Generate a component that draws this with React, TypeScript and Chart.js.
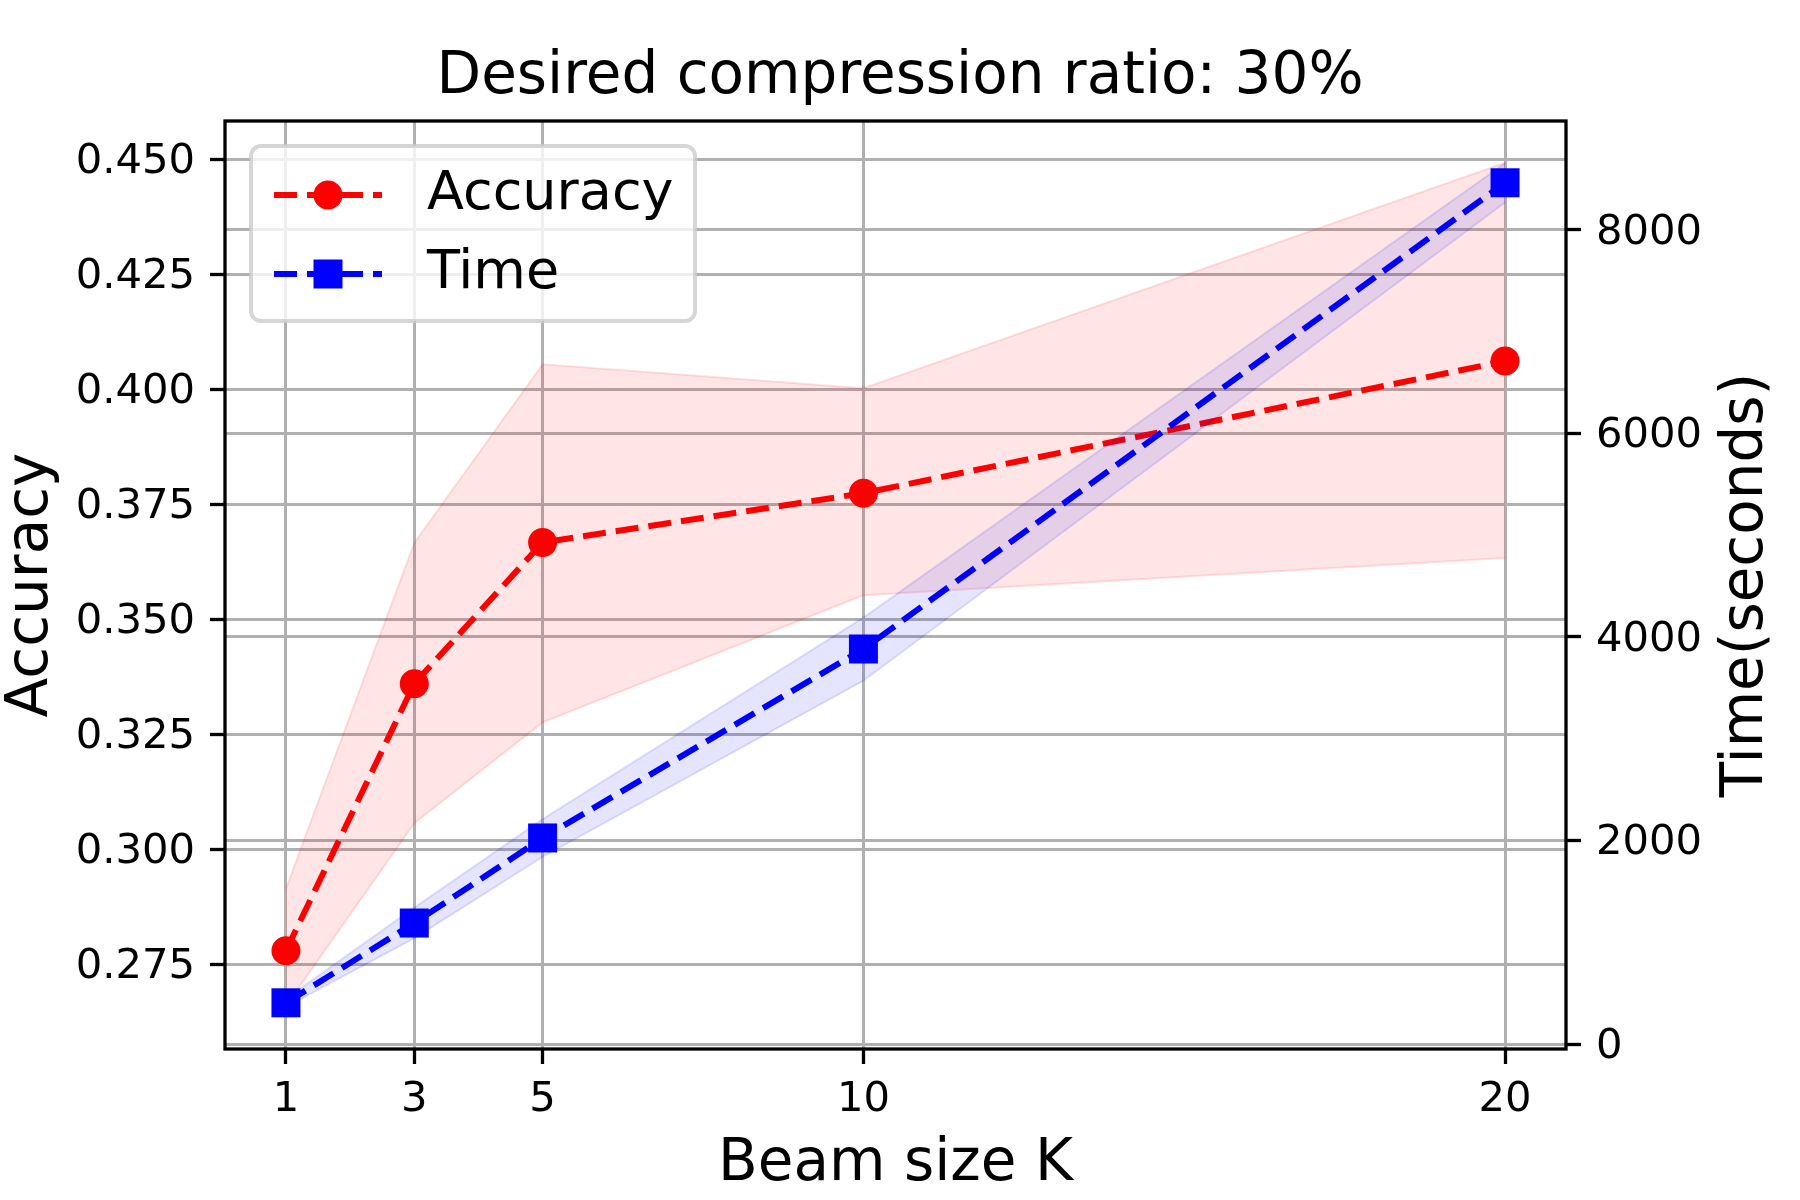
import { useEffect, useRef } from "react";
import { Chart, registerables } from "chart.js";

// Register all Chart.js components
Chart.register(...registerables);

// Values
const beamSizes = [1, 3, 5, 10, 20];
const accuracy = [0.278, 0.336, 0.3667, 0.3774, 0.4061];
const accuracyHigh = [0.2915, 0.3666, 0.4054, 0.4002, 0.4492];
const accuracyLow = [0.266, 0.3057, 0.3276, 0.3552, 0.3633];
const timeSeconds = [405, 1189, 2025, 3882, 8464];
const timeHigh = [445, 1340, 2210, 4190, 8656];
const timeLow = [366, 1040, 1840, 3570, 8270];

const accuracyTicks = [0.275, 0.3, 0.325, 0.35, 0.375, 0.4, 0.425, 0.45];
const timeTicks = [0, 2000, 4000, 6000, 8000];

const FONT = "'DejaVu Sans', sans-serif";
const GRID = "#b0b0b0";
const DASH = [23, 10];

const toPoints = (ys: number[]) => beamSizes.map((x, i) => ({ x, y: ys[i] }));

// eslint-disable-next-line @typescript-eslint/no-explicit-any
type AnyChart = any;

// Frame around the plot (matplotlib spines)
const framePlugin = {
  id: "frame",
  afterDatasetsDraw(chart: AnyChart) {
    const { ctx, chartArea } = chart;
    ctx.save();
    ctx.strokeStyle = "#000";
    ctx.lineWidth = 3.3;
    ctx.strokeRect(
      chartArea.left,
      chartArea.top,
      chartArea.right - chartArea.left,
      chartArea.bottom - chartArea.top,
    );
    ctx.restore();
  },
};

// Right axis title, reading bottom to top like matplotlib
const rightTitlePlugin = {
  id: "rightTitle",
  afterDraw(chart: AnyChart) {
    const { ctx, chartArea } = chart;
    ctx.save();
    ctx.translate(1747, (chartArea.top + chartArea.bottom) / 2);
    ctx.rotate(-Math.PI / 2);
    ctx.font = `58px ${FONT}`;
    ctx.fillStyle = "#000";
    ctx.textAlign = "center";
    ctx.textBaseline = "middle";
    ctx.fillText("Time(seconds)", 0, 0);
    ctx.restore();
  },
};

// Legend box in the upper left, with dashed line samples and markers
const legendPlugin = {
  id: "boxLegend",
  afterDraw(chart: AnyChart) {
    const { ctx, chartArea } = chart;
    const x0 = chartArea.left + 26;
    const y0 = chartArea.top + 25;
    const w = 444;
    const h = 175;
    const r = 10;
    ctx.save();
    ctx.beginPath();
    ctx.moveTo(x0 + r, y0);
    ctx.arcTo(x0 + w, y0, x0 + w, y0 + h, r);
    ctx.arcTo(x0 + w, y0 + h, x0, y0 + h, r);
    ctx.arcTo(x0, y0 + h, x0, y0, r);
    ctx.arcTo(x0, y0, x0 + w, y0, r);
    ctx.closePath();
    ctx.fillStyle = "rgba(255,255,255,0.8)";
    ctx.fill();
    ctx.strokeStyle = "rgba(204,204,204,0.8)";
    ctx.lineWidth = 4;
    ctx.stroke();

    const rows = [
      { label: "Accuracy", color: "#ff0000", marker: "circle", y: y0 + 49 },
      { label: "Time", color: "#0000ff", marker: "square", y: y0 + 128 },
    ];
    rows.forEach((row) => {
      ctx.strokeStyle = row.color;
      ctx.lineWidth = 6;
      ctx.setLineDash(DASH);
      ctx.beginPath();
      ctx.moveTo(x0 + 23, row.y);
      ctx.lineTo(x0 + 131, row.y);
      ctx.stroke();
      ctx.setLineDash([]);
      ctx.fillStyle = row.color;
      const mx = x0 + 77;
      if (row.marker === "circle") {
        ctx.beginPath();
        ctx.arc(mx, row.y, 14.5, 0, Math.PI * 2);
        ctx.fill();
      } else {
        ctx.fillRect(mx - 14.5, row.y - 14.5, 29, 29);
      }
      ctx.fillStyle = "#000";
      ctx.font = `54px ${FONT}`;
      ctx.textAlign = "left";
      ctx.textBaseline = "middle";
      ctx.fillText(row.label, x0 + 176, row.y);
    });
    ctx.restore();
  },
};

const App = () => {
  const canvasRef = useRef<HTMLCanvasElement>(null);

  useEffect(() => {
    document.body.style.margin = "0";
    if (!canvasRef.current) return;
    Chart.defaults.font.family = FONT;
    Chart.defaults.color = "#000";

    const bandLine = {
      pointRadius: 0,
      borderWidth: 2,
      tension: 0,
    };

    const chart = new Chart(canvasRef.current, {
      type: "line",
      data: {
        datasets: [
          {
            label: "accHigh",
            data: toPoints(accuracyHigh),
            yAxisID: "y",
            borderColor: "rgba(255,0,0,0.12)",
            fill: false,
            order: 4,
            ...bandLine,
          },
          {
            label: "accLow",
            data: toPoints(accuracyLow),
            yAxisID: "y",
            borderColor: "rgba(255,0,0,0.12)",
            backgroundColor: "rgba(255,0,0,0.1)",
            fill: "-1",
            order: 4,
            ...bandLine,
          },
          {
            label: "Accuracy",
            data: toPoints(accuracy),
            yAxisID: "y",
            borderColor: "#ff0000",
            backgroundColor: "#ff0000",
            borderWidth: 6,
            borderDash: DASH,
            pointStyle: "circle",
            pointRadius: 14.5,
            pointBorderWidth: 0,
            fill: false,
            order: 3,
          },
          {
            label: "timeHigh",
            data: toPoints(timeHigh),
            yAxisID: "y1",
            borderColor: "rgba(0,0,255,0.12)",
            fill: false,
            order: 2,
            ...bandLine,
          },
          {
            label: "timeLow",
            data: toPoints(timeLow),
            yAxisID: "y1",
            borderColor: "rgba(0,0,255,0.12)",
            backgroundColor: "rgba(0,0,255,0.1)",
            fill: "-1",
            order: 2,
            ...bandLine,
          },
          {
            label: "Time",
            data: toPoints(timeSeconds),
            yAxisID: "y1",
            borderColor: "#0000ff",
            backgroundColor: "#0000ff",
            borderWidth: 6,
            borderDash: DASH,
            pointStyle: "rect",
            pointRadius: 20.5,
            pointBorderWidth: 0,
            fill: false,
            order: 1,
          },
        ],
      },
      options: {
        animation: false,
        responsive: false,
        devicePixelRatio: 1,
        layout: { padding: 0 },
        plugins: {
          legend: { display: false },
          tooltip: { enabled: false },
          title: {
            display: true,
            text: "Desired compression ratio: 30%",
            color: "#000",
            font: { size: 58, weight: "normal", lineHeight: 1 },
            padding: { top: 49, bottom: 14 },
          },
        },
        scales: {
          x: {
            type: "linear",
            min: 0.05,
            max: 20.95,
            afterBuildTicks: (axis: AnyChart) => {
              axis.ticks = beamSizes.map((v) => ({ value: v }));
            },
            afterFit: (scale: AnyChart) => {
              scale.height = 151;
            },
            ticks: {
              font: { size: 41.7 },
              color: "#000",
              padding: 11,
              maxRotation: 0,
              callback: (v: number | string) => String(v),
            },
            grid: {
              color: GRID,
              lineWidth: 3,
              tickColor: "#000",
              tickWidth: 3.3,
              tickLength: 15,
            },
            border: { display: false },
            title: {
              display: true,
              text: "Beam size K",
              color: "#000",
              font: { size: 58, lineHeight: 1 },
              padding: { top: 0, bottom: 6 },
            },
          },
          y: {
            type: "linear",
            position: "left",
            min: 0.25664,
            max: 0.45826,
            afterBuildTicks: (axis: AnyChart) => {
              axis.ticks = accuracyTicks.map((v) => ({ value: v }));
            },
            afterFit: (scale: AnyChart) => {
              scale.width = 225;
            },
            ticks: {
              font: { size: 41.7 },
              color: "#000",
              padding: 15,
              labelOffset: 3,
              callback: (v: number | string) => Number(v).toFixed(3),
            },
            grid: {
              color: GRID,
              lineWidth: 3,
              tickColor: "#000",
              tickWidth: 3.3,
              tickLength: 15,
            },
            border: { display: false },
            title: {
              display: true,
              text: "Accuracy",
              color: "#000",
              font: { size: 58, lineHeight: 1 },
              padding: { top: 3, bottom: 0 },
            },
          },
          y1: {
            type: "linear",
            position: "right",
            min: -49,
            max: 9071,
            afterBuildTicks: (axis: AnyChart) => {
              axis.ticks = timeTicks.map((v) => ({ value: v }));
            },
            afterFit: (scale: AnyChart) => {
              scale.width = 234;
            },
            ticks: {
              font: { size: 41.7 },
              color: "#000",
              padding: 15,
              labelOffset: 3,
              callback: (v: number | string) => String(v),
            },
            grid: {
              color: GRID,
              lineWidth: 3,
              tickColor: "#000",
              tickWidth: 3.3,
              tickLength: 15,
            },
            border: { display: false },
          },
        },
      },
      plugins: [framePlugin, legendPlugin, rightTitlePlugin],
    } as AnyChart);

    return () => {
      chart.destroy();
    };
  }, []);

  return (
    <div style={{ width: 1800, height: 1200, background: "#fff" }}>
      <canvas ref={canvasRef} width={1800} height={1200} />
    </div>
  );
};

export default App;
